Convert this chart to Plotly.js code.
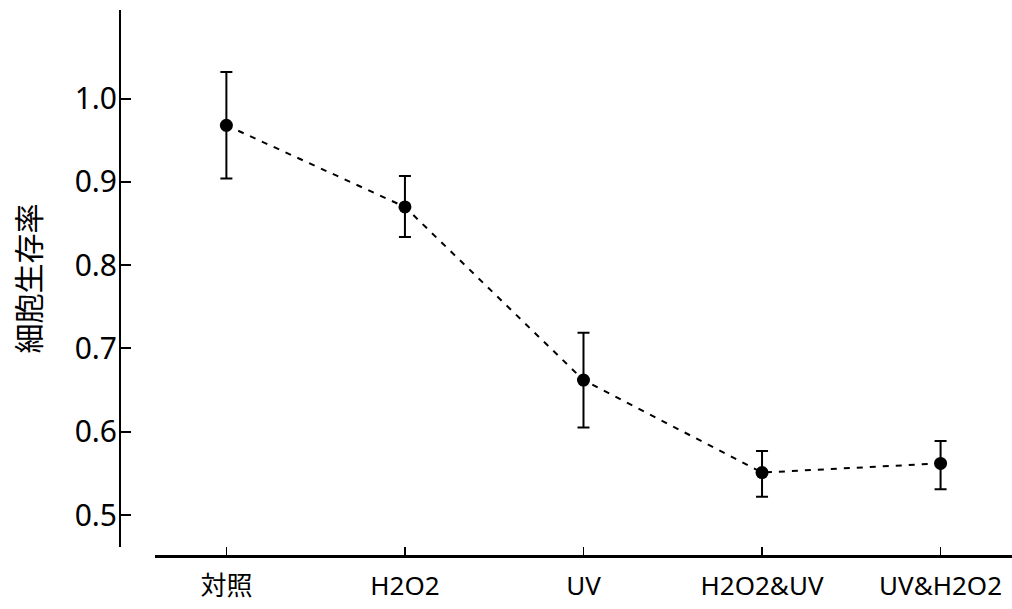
<!DOCTYPE html>
<html>
<head>
<meta charset="utf-8">
<script src="https://cdn.plot.ly/plotly-3.0.1.min.js"></script>
<style>html,body{margin:0;padding:0;background:#fff;}#chart{width:1012px;height:609px;}</style>
</head>
<body>
<div id="chart"></div>
<script>
const categories = ["対照", "H2O2", "UV", "H2O2&UV", "UV&H2O2"];
const survival = [0.968, 0.870, 0.662, 0.551, 0.562];
const errPlus = [0.064, 0.037, 0.057, 0.026, 0.027];
const errMinus = [0.064, 0.036, 0.057, 0.029, 0.031];
const yTicks = [0.5, 0.6, 0.7, 0.8, 0.9, 1.0];
const yTickText = ["0.5", "0.6", "0.7", "0.8", "0.9", "1.0"];
const yTitle = "細胞生存率";

const FONT = "'Liberation Sans Narrow', 'Noto Sans', 'Noto Sans CJK JP', sans-serif";

const trace = {
  x: categories.map((c, i) => i),
  y: survival,
  type: "scatter",
  mode: "lines+markers",
  line: {color: "#000", width: 2, dash: "6px,7px"},
  marker: {color: "#000", size: 13, symbol: "circle"},
  error_y: {type: "data", symmetric: false, array: errPlus, arrayminus: errMinus,
            color: "#000", thickness: 2, width: 6},
  showlegend: false,
  hoverinfo: "skip"
};

const layout = {
  width: 1012, height: 609,
  margin: {l: 120, r: 0, t: 10, b: 53},
  paper_bgcolor: "#fff", plot_bgcolor: "#fff",
  font: {family: FONT, color: "#000"},
  xaxis: {
    domain: [0.0392, 1],
    anchor: "free", position: 0,
    range: [-0.4, 4.4],
    tickmode: "array", tickvals: categories.map((c, i) => i), ticktext: categories,
    showline: true, linecolor: "#000", linewidth: 2.5,
    ticks: "inside", ticklen: 8, tickwidth: 1.5, tickcolor: "#000",
    showgrid: false, zeroline: false,
    tickfont: {family: FONT, size: 26, color: "#000"},
    ticklabelstandoff: 6
  },
  yaxis: {
    domain: [0.0165, 1],
    anchor: "free", position: 0,
    range: [0.4616, 1.1065],
    tickmode: "array", tickvals: yTicks, ticktext: yTickText,
    showline: true, linecolor: "#000", linewidth: 2,
    ticks: "inside", ticklen: 10, tickwidth: 2, tickcolor: "#000",
    showgrid: false, zeroline: false,
    tickfont: {family: FONT, size: 30, color: "#000"},
    ticklabelstandoff: -4,
    title: {text: yTitle, font: {family: "'Noto Sans CJK JP', sans-serif", size: 30, color: "#000"}, standoff: 24}
  }
};

Plotly.newPlot("chart", [trace], layout, {staticPlot: true, displayModeBar: false});
</script>
</body>
</html>
